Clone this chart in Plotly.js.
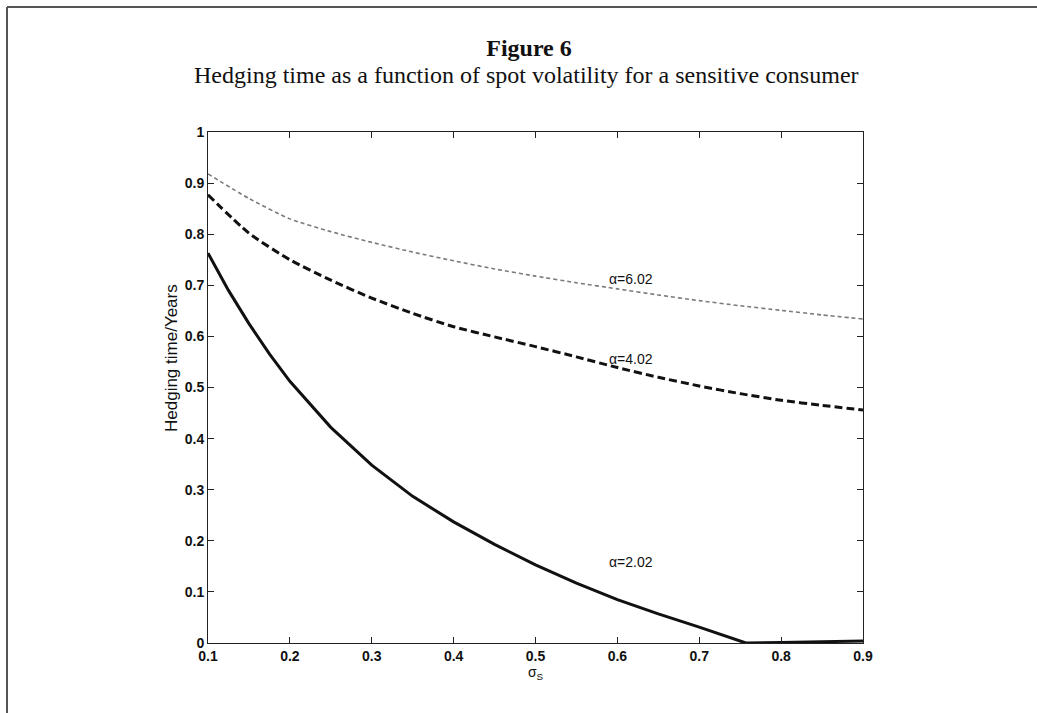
<!DOCTYPE html>
<html>
<head>
<meta charset="utf-8">
<script src="https://cdn.plot.ly/plotly-3.0.1.min.js"></script>
<style>
html,body{margin:0;padding:0;background:#fff;}
#chart{width:1037px;height:713px;}
</style>
</head>
<body>
<div id="chart"></div>
<script>
// Spot volatility grid
const sigma = [0.10,0.15,0.20,0.25,0.30,0.35,0.40,0.45,0.50,0.55,0.60,0.65,0.70,0.75,0.80,0.85,0.90];
// Hedging time (years), alpha = 6.02
const hedge602 = [0.918,0.870,0.830,0.805,0.784,0.765,0.748,0.732,0.718,0.705,0.693,0.681,0.670,0.660,0.651,0.642,0.634];
// Hedging time (years), alpha = 4.02
const hedge402 = [0.877,0.802,0.750,0.710,0.675,0.645,0.619,0.599,0.580,0.560,0.539,0.520,0.503,0.488,0.475,0.465,0.456];
// alpha = 2.02 (hits zero near 0.757)
const sigma202 = [0.10,0.125,0.15,0.175,0.20,0.25,0.30,0.35,0.40,0.45,0.50,0.55,0.60,0.65,0.70,0.757,0.80,0.90];
const hedge202 = [0.763,0.690,0.625,0.566,0.512,0.422,0.348,0.287,0.237,0.193,0.153,0.117,0.085,0.057,0.031,0.000,0.001,0.004];
// Curve labels
const labelText = ["α=6.02","α=4.02","α=2.02"];
const labelX = [0.617,0.617,0.617];
const labelY = [0.713,0.556,0.158];
const xTicks = [0.1,0.2,0.3,0.4,0.5,0.6,0.7,0.8,0.9];
const yTicks = [0,0.1,0.2,0.3,0.4,0.5,0.6,0.7,0.8,0.9,1];
const yTitle = 'Hedging time/Years';

const traces = [
  {x: sigma, y: hedge602, mode: 'lines', line: {color: '#7a7a7a', width: 1.6, dash: '4px,3px', shape: 'spline', smoothing: 0.6}, hoverinfo: 'skip'},
  {x: sigma, y: hedge402, mode: 'lines', line: {color: '#111', width: 3, dash: '8px,4px', shape: 'spline', smoothing: 0.6}, hoverinfo: 'skip'},
  {x: sigma202, y: hedge202, mode: 'lines', line: {color: '#111', width: 3}, hoverinfo: 'skip'}
];

const sans = 'Liberation Sans, Arial, sans-serif';
const annotations = labelText.map((t, i) => ({
  x: labelX[i], y: labelY[i], xref: 'x', yref: 'y', text: t, showarrow: false,
  font: {family: sans, size: 14, color: '#111'}
}));
// y-axis title (placed as in the reference, left of tick labels)
annotations.push({
  xref: 'paper', yref: 'paper', x: (171-208)/655, y: (643-358)/511,
  xanchor: 'center', yanchor: 'middle', textangle: -90, showarrow: false,
  text: yTitle, font: {family: sans, size: 17, color: '#111'}
});
// subtitle
annotations.push({
  xref: 'paper', yref: 'paper', x: (526-208)/655, y: (643-75)/511,
  xanchor: 'center', yanchor: 'middle', showarrow: false,
  text: 'Hedging time as a function of spot volatility for a sensitive consumer',
  font: {family: 'Liberation Serif, Times New Roman, serif', size: 24, color: '#111'}
});

const tickFont = {family: sans, size: 14, color: '#111', weight: 'bold'};

const layout = {
  width: 1037, height: 713,
  margin: {l: 208, r: 174, t: 132, b: 70},
  paper_bgcolor: '#fff', plot_bgcolor: '#fff',
  showlegend: false,
  title: {
    text: '<b>Figure 6</b>',
    font: {family: 'Liberation Serif, Times New Roman, serif', size: 24, color: '#111'},
    xref: 'container', x: 529/1037, xanchor: 'center',
    yref: 'container', y: 1 - 48/713, yanchor: 'middle'
  },
  xaxis: {
    range: [0.1, 0.9], tickvals: xTicks, ticktext: xTicks.map(String),
    ticks: 'inside', ticklen: 6, tickwidth: 1, tickcolor: '#222',
    showline: true, linecolor: '#222', linewidth: 1, mirror: 'ticks',
    showgrid: false, zeroline: false, tickfont: tickFont,
    title: {text: 'σ<sub>S</sub>', font: {family: sans, size: 14, color: '#111'}, standoff: 3}
  },
  yaxis: {
    range: [0, 1], tickvals: yTicks, ticktext: yTicks.map(String),
    ticks: 'inside', ticklen: 6, tickwidth: 1, tickcolor: '#222',
    showline: true, linecolor: '#222', linewidth: 1, mirror: 'ticks',
    showgrid: false, zeroline: false, tickfont: tickFont
  },
  annotations: annotations,
  shapes: [
    {type: 'line', xref: 'paper', yref: 'paper', x0: (7-208)/655, x1: (7-208)/655, y0: (643-7)/511, y1: (643-713)/511, line: {color: '#555', width: 2}},
    {type: 'line', xref: 'paper', yref: 'paper', x0: (7-208)/655, x1: (1037-208)/655, y0: (643-7)/511, y1: (643-7)/511, line: {color: '#555', width: 2}}
  ]
};

Plotly.newPlot('chart', traces, layout, {staticPlot: true, displayModeBar: false});
</script>
</body>
</html>
